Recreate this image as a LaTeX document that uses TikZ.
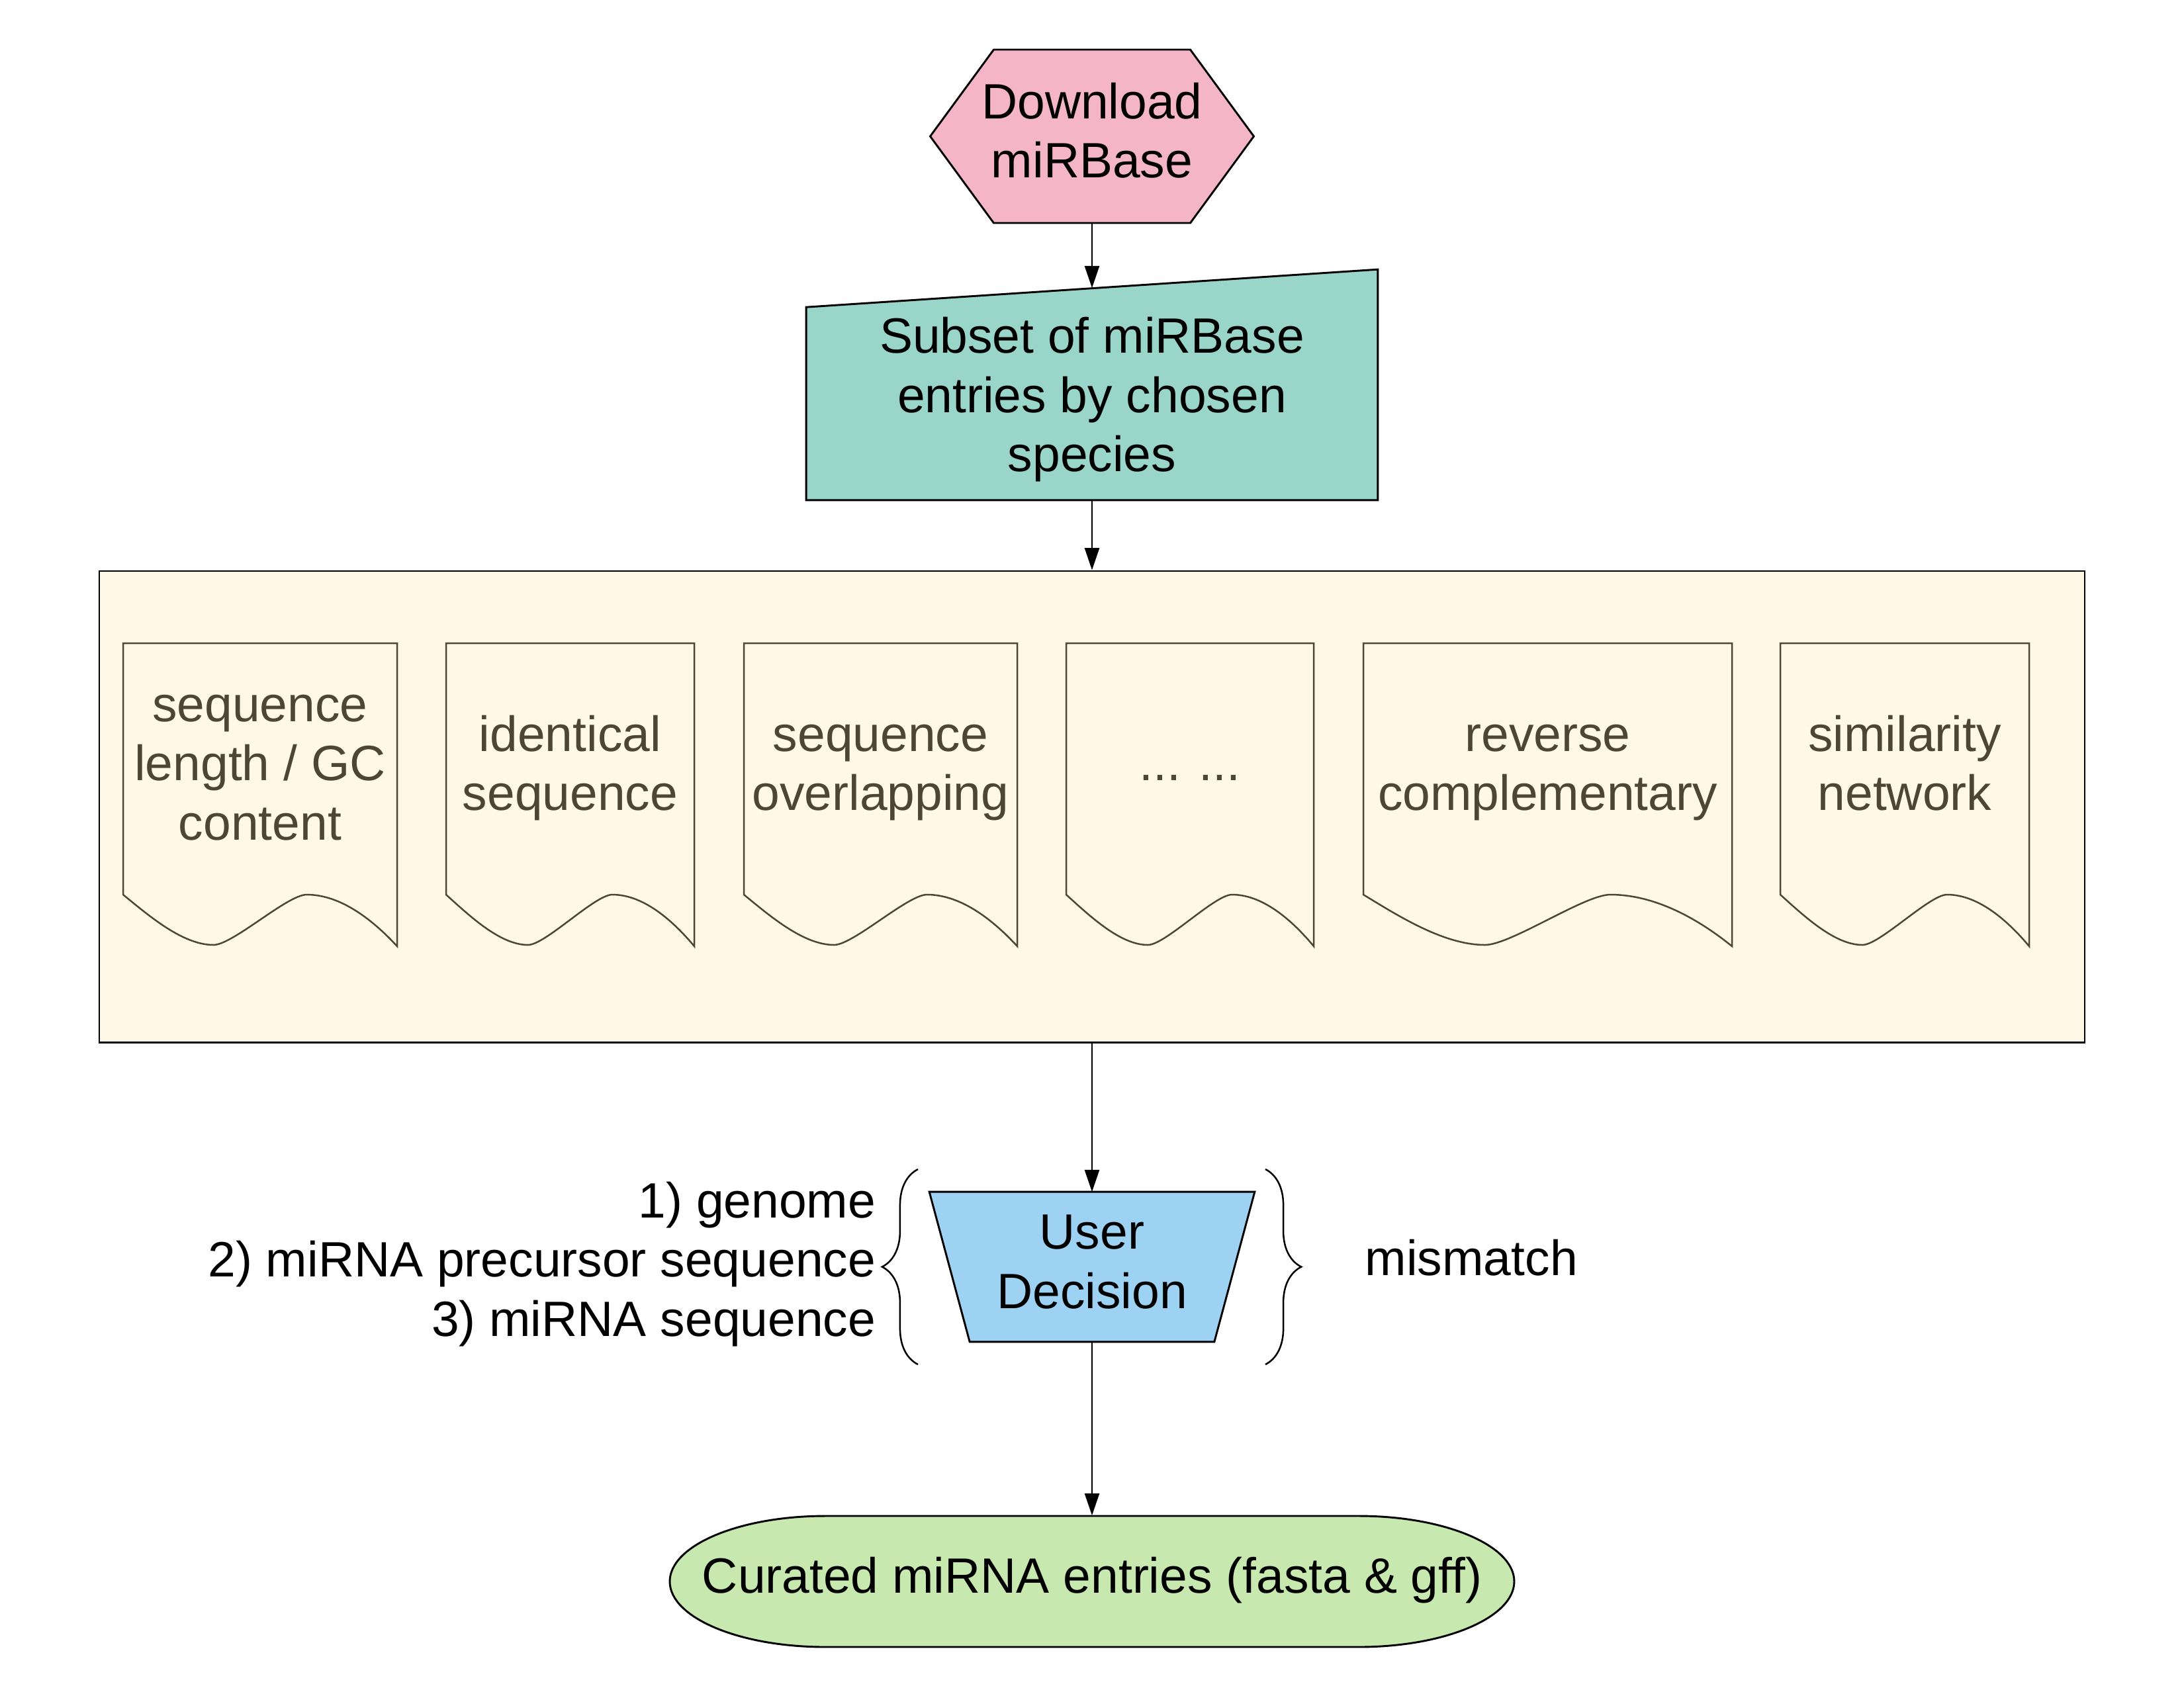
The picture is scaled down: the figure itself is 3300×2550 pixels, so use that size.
\documentclass[tikz,border=0pt]{standalone}
\usepackage{fontspec}
\setmainfont{Liberation Sans}
\usetikzlibrary{arrows.meta,backgrounds,calc,decorations.pathreplacing}

\definecolor{dlpink}{HTML}{F4B5C8}
\definecolor{subteal}{HTML}{9AD5CA}
\definecolor{filtcream}{HTML}{FFF8E6}
\definecolor{docink}{HTML}{4D4636}
\definecolor{userblue}{HTML}{9ED2F3}
\definecolor{curgreen}{HTML}{C7E8AE}

\begin{document}
\begin{tikzpicture}[x=0.24pt,y=-0.24pt,>={Triangle[length=8pt,width=5.3pt]},
        label text/.style={font=\fontsize{18}{21.5}\selectfont,inner sep=0pt,
            execute at end node=\strut},
        box/.style={label text,align=center},
        shape line/.style={draw=black,line width=0.7pt},
        doc node/.style={box,text=docink,minimum height=91.2pt},
        doc line/.style={draw=docink,line width=0.6pt},
        brace line/.style={line width=0.6pt,decorate,decoration={brace,amplitude=13pt}},
        flow/.style={->,line width=0.6pt}]

    \useasboundingbox (0,0) rectangle (3300,2550);

    \node[box,minimum height=62.88pt] (dl) at (1650,206) {\strut Download\\miRBase};
    \node[box,minimum width=206.9pt,minimum height=76.56pt] (sub) at (1650,595.5)
        {\rule{0pt}{19.7pt}Subset of miRBase\\entries by chosen\\species};
    \node[shape line,fill=filtcream,minimum width=720pt,minimum height=170.9pt] (flt) at (1650,1219) {};

    % filter documents
    \foreach \i/\cx/\w/\txt in {1/393/414/{sequence\\length / GC\\content},
            2/861.5/375/{identical\\sequence},
            3/1330.5/413/{sequence\\overlapping},
            4/1798/374/{... ...},
            5/2338.5/557/{reverse\\complementary},
            6/2878/376/{similarity\\network}}
    {
        \node[doc node,minimum width=\w*0.24pt] (doc\i) at (\cx,1162) {\strut\txt};
        \draw[doc line] ({\cx-0.5*\w},972) -- ({\cx-0.5*\w},1352)
            .. controls ({\cx-0.4*\w},1386) and ({\cx-0.28*\w},1428) .. ({\cx-0.17*\w},1428)
            .. controls ({\cx-0.10*\w},1428) and ({\cx+0.10*\w},1352) .. ({\cx+0.17*\w},1352)
            .. controls ({\cx+0.30*\w},1352) and ({\cx+0.42*\w},1394) .. ({\cx+0.5*\w},1430)
            -- ({\cx+0.5*\w},972) -- cycle;
    }

    \node[box,minimum width=117.6pt,minimum height=54pt] (ud) at (1650,1914.5) {\strut User\\Decision};
    \node[box,minimum height=47.52pt] (cur) at (1650,2390) {\strut Curated miRNA entries (fasta \& gff)};
    \node[label text,align=right,anchor=east] (src) at (1324,1912) {\strut 1) genome\\2) miRNA precursor sequence\\3) miRNA sequence};
    \node[label text,anchor=west] (mm) at (2062,1910) {\strut mismatch};

    % shapes behind the texts
    \begin{scope}[on background layer]
        \draw[shape line,fill=dlpink] ($(dl.center)+(-148.5,-131)$) -- ($(dl.center)+(148.5,-131)$)
            -- ($(dl.center)+(244.5,0)$) -- ($(dl.center)+(148.5,131)$)
            -- ($(dl.center)+(-148.5,131)$) -- ($(dl.center)+(-244.5,0)$) -- cycle;
        \draw[shape line,fill=subteal] ($(sub.north west)+(0,29)$) -- ($(sub.north east)+(0,-28)$)
            -- (sub.south east) -- (sub.south west) -- cycle;
        \draw[shape line,fill=userblue] (ud.north west) -- (ud.north east)
            -- ($(ud.south east)+(-61,0)$) -- ($(ud.south west)+(61,0)$) -- cycle;
        \draw[shape line,fill=curgreen] ($(cur.center)+(-403,-99)$) -- ($(cur.center)+(403,-99)$)
            arc[start angle=90,end angle=-90,x radius=56.4pt,y radius=23.76pt]
            -- ($(cur.center)+(-403,99)$)
            arc[start angle=270,end angle=90,x radius=56.4pt,y radius=23.76pt] -- cycle;
    \end{scope}

    % braces
    \coordinate (lbt) at (1387,1767);
    \coordinate (lbb) at (1387,2062);
    \coordinate (rbt) at (1912,1767);
    \coordinate (rbb) at (1912,2062);
    \draw[brace line] (lbb) -- (lbt);
    \draw[brace line] (rbt) -- (rbb);

    \draw[flow] (dl) -- (sub);
    \draw[flow] (sub) -- (flt);
    \draw[flow] (flt) -- (ud);
    \draw[flow] (ud) -- (cur);
\end{tikzpicture}
\end{document}
